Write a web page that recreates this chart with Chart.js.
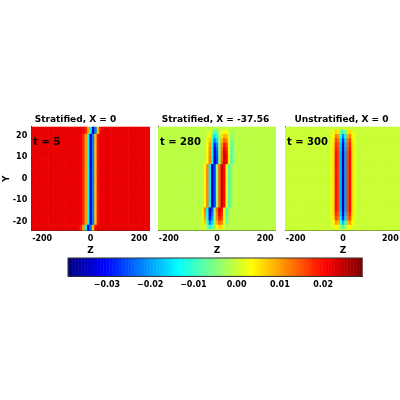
<!DOCTYPE html>
<html>
<head>
<meta charset="utf-8">
<script src="https://cdn.jsdelivr.net/npm/chart.js@4.4.0/dist/chart.umd.min.js"></script>
<style>
  body { margin: 0; background: #fff; }
  #wrap { position: relative; width: 400px; height: 400px; }
  canvas { position: absolute; }
</style>
</head>
<body>
<div id="wrap">
  <canvas id="p1" width="149" height="142" style="left:1px;top:114px"></canvas>
  <canvas id="p2" width="121" height="142" style="left:155px;top:114px"></canvas>
  <canvas id="p3" width="119" height="142" style="left:282px;top:114px"></canvas>
  <canvas id="cb" width="330" height="40" style="left:50px;top:251px"></canvas>
</div>
<script>
// grid
const zCells = [];
for (let z = -240; z <= 240; z += 10) zCells.push(z);
const yCells = [];
for (let y = -24; y <= 24; y += 2) yCells.push(y);

// z offsets of the profile (-60..60, step 10)
const profileZ = [-60, -50, -40, -30, -20, -10, 0, 10, 20, 30, 40, 50, 60];

// panel 1: Stratified, X = 0, t = 5
const bg1 = 0.022;
const profile1 = [0.022, 0.022, 0.021, 0.018, 0.01, -0.014, -0.035, -0.022, 0.008, 0.02, 0.022, 0.022, 0.022];
const amp1 = [1, 1, 1, 1, 1, 1, 1, 1, 1, 1, 1, 1, 1, 1, 1, 1, 1, 1, 1, 1, 1, 1, 1, 1, 1];
const shift1 = [-1, -1, 0, 0, 0, 0, 0, 0, 0, 0, 0, 0, 0, 0, 0, 0, 0, 0, 0, 0, 0, 0, 0, 1, 1];

// panel 2: Stratified, X = -37.56, t = 280
const bg2 = -0.001;
const profile2 = [-0.001, 0.004, 0.012, -0.014, -0.036, -0.026, -0.004, 0.014, 0.024, 0.02, 0.004, -0.009, -0.003];
const amp2 = [0, 0.3, 0.6, 0.8, 0.9, 1, 1, 1, 1, 1, 1, 1, 1, 1, 1, 1, 1, 1, 0.95, 0.9, 0.8, 0.6, 0.4, 0.2, 0];
const shift2 = [-1, -1, -1, -1, -1, -1, 0, 0, 0, 0, 0, 0, 0, 0, 0, 0, 1, 1, 1, 1, 1, 1, 1, 1, 1];

// panel 3: Unstratified, X = 0, t = 300
const bg3 = 0.0;
const profile3 = [0.0, 0.002, 0.006, 0.02, 0.016, -0.018, -0.036, -0.02, 0.016, 0.02, 0.006, 0.002, 0.0];
const amp3 = [0, 0.2, 0.5, 0.8, 0.9, 1, 1, 1, 1, 1, 1, 1, 1, 1, 1, 1, 1, 1, 1, 0.95, 0.9, 0.8, 0.6, 0.3, 0];
const shift3 = [0, 0, 0, 0, 0, 0, 0, 0, 0, 0, 0, 0, 0, 0, 0, 0, 0, 0, 0, 0, 0, 0, 0, 0, 0];

const vmin = -0.039, vmax = 0.029;
const cbTicks = [-0.03, -0.02, -0.01, 0.00, 0.01, 0.02];

function jet(v) {
  let t = (v - vmin) / (vmax - vmin);
  t = Math.max(0, Math.min(1, t));
  const r = Math.min(4 * t - 1.5, -4 * t + 4.5);
  const g = Math.min(4 * t - 0.5, -4 * t + 3.5);
  const b = Math.min(4 * t + 0.5, -4 * t + 2.5);
  const c = x => Math.round(255 * Math.max(0, Math.min(1, x)));
  return `rgb(${c(r)},${c(g)},${c(b)})`;
}

function buildCells(bg, profile, amp, shift) {
  const cells = [];
  yCells.forEach((y, j) => {
    zCells.forEach((z, i) => {
      const k = profileZ.indexOf(z - shift[j] * 10);
      const p = k >= 0 ? profile[k] : bg;
      cells.push({ x: z, y: y, v: bg + (p - bg) * amp[j] });
    });
  });
  return cells;
}

const heatPlugin = {
  id: 'heat',
  beforeDatasetsDraw(chart) {
    const { ctx, scales: { x, y } } = chart;
    const cells = chart.data.datasets[0].data;
    ctx.save();
    ctx.beginPath();
    ctx.rect(chart.chartArea.left, chart.chartArea.top, chart.chartArea.width, chart.chartArea.height);
    ctx.clip();
    cells.forEach(c => {
      const x0 = x.getPixelForValue(c.x - 5), x1 = x.getPixelForValue(c.x + 5);
      const y0 = y.getPixelForValue(c.y + 1), y1 = y.getPixelForValue(c.y - 1);
      ctx.fillStyle = jet(c.v);
      ctx.fillRect(x0, y0, x1 - x0 + 0.6, y1 - y0 + 0.6);
    });
    ctx.restore();
  }
};

const tickFont = { family: 'DejaVu Sans', size: 8, weight: 'bold' };

function panel(id, title, label, cells, showY) {
  new Chart(document.getElementById(id), {
    type: 'scatter',
    data: { datasets: [{ data: cells, pointRadius: 0 }] },
    options: {
      responsive: false, animation: false,
      layout: { padding: { left: 0, right: 0 } },
      plugins: {
        legend: { display: false }, tooltip: { enabled: false },
        title: { display: true, text: title, color: '#000', font: { family: 'DejaVu Sans', size: 9, weight: 'bold' }, padding: { top: 0, bottom: 2 } }
      },
      scales: {
        x: {
          type: 'linear', min: -245, max: 245,
          afterBuildTicks: s => { s.ticks = [-200, 0, 200].map(v => ({ value: v })); },
          ticks: { font: tickFont, color: '#000', maxRotation: 0, padding: 1 },
          grid: { display: false, drawTicks: true, tickLength: 3, tickColor: '#000' },
          border: { color: '#333' },
          title: { display: true, text: 'Z', color: '#000', font: { family: 'DejaVu Sans', size: 9, weight: 'bold' }, padding: 0 }
        },
        y: {
          type: 'linear', min: -24, max: 24,
          afterBuildTicks: s => { s.ticks = [-20, -10, 0, 10, 20].map(v => ({ value: v })); },
          ticks: { font: tickFont, color: '#000', display: showY, padding: 1 },
          grid: { display: false, tickLength: 3, tickColor: '#000' },
          border: { color: '#333' },
          title: { display: showY, text: 'Y', color: '#000', font: { family: 'DejaVu Sans', size: 9, weight: 'bold' }, padding: 0 }
        }
      }
    },
    plugins: [heatPlugin, {
      id: 'label',
      afterDatasetsDraw(chart) {
        const { ctx, chartArea } = chart;
        ctx.save();
        ctx.fillStyle = '#000';
        ctx.font = 'bold 10px DejaVu Sans';
        ctx.textBaseline = 'middle';
        ctx.fillText(label, chartArea.left + 2, chartArea.top + 16);
        ctx.restore();
      }
    }]
  });
}

panel('p1', 'Stratified, X = 0', 't = 5', buildCells(bg1, profile1, amp1, shift1), true);
panel('p2', 'Stratified, X = -37.56', 't = 280', buildCells(bg2, profile2, amp2, shift2), false);
panel('p3', 'Unstratified, X = 0', 't = 300', buildCells(bg3, profile3, amp3, shift3), false);

// colorbar
new Chart(document.getElementById('cb'), {
  type: 'scatter',
  data: { datasets: [{ data: [], pointRadius: 0 }] },
  options: {
    responsive: false, animation: false,
    layout: { padding: { left: 18, right: 18, top: 7 } },
    plugins: { legend: { display: false }, tooltip: { enabled: false } },
    scales: {
      x: {
        type: 'linear', min: vmin, max: vmax,
        afterBuildTicks: s => { s.ticks = cbTicks.map(v => ({ value: v })); },
        ticks: { font: tickFont, color: '#000', maxRotation: 0, padding: 1, callback: v => v === 0 ? '0.00' : (v < 0 ? '\u2212' + Math.abs(v).toFixed(2) : v.toFixed(2)) },
        grid: { display: false, tickLength: 3, tickColor: '#000' },
        border: { color: '#333' }
      },
      y: { display: false, min: 0, max: 1 }
    }
  },
  plugins: [{
    id: 'bar',
    beforeDatasetsDraw(chart) {
      const { ctx, chartArea, scales: { x } } = chart;
      const steps = 200;
      for (let i = 0; i < steps; i++) {
        const v = vmin + (vmax - vmin) * i / steps;
        const x0 = x.getPixelForValue(v), x1 = x.getPixelForValue(vmin + (vmax - vmin) * (i + 1) / steps);
        ctx.fillStyle = jet(v + (vmax - vmin) / steps / 2);
        ctx.fillRect(x0, chartArea.top, x1 - x0 + 0.5, chartArea.height);
      }
      ctx.strokeStyle = '#333';
      ctx.strokeRect(chartArea.left, chartArea.top, chartArea.width, chartArea.height);
    }
  }]
});
</script>
</body>
</html>
